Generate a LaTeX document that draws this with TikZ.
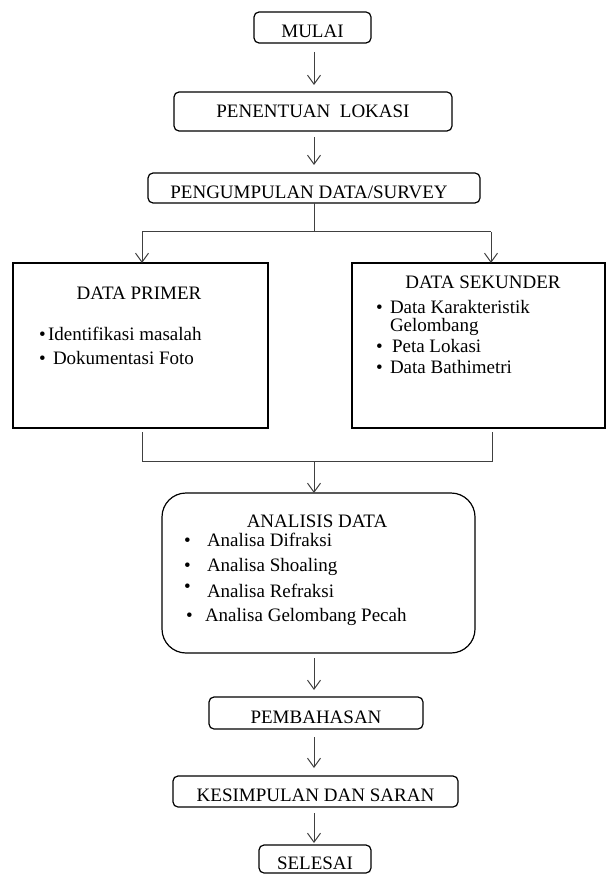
\documentclass[tikz,border=0pt]{standalone}
\usepackage{fontspec}
\setmainfont{Liberation Serif}
\usetikzlibrary{arrows.meta}
\begin{document}
\begin{tikzpicture}[x=1pt,y=-1pt,
  every node/.style={font=\fontsize{19}{21}\selectfont, inner sep=0pt, outer sep=0pt},
  box/.style={draw, line width=1.2pt, rounded corners=5pt, text height=20.5pt, text depth=0pt},
  bigbox/.style={draw, line width=1.2pt},
  conn/.style={draw=black!75, line width=1pt},
  arr/.style={conn, -{Straight Barb[length=9pt,width=13pt,line width=1pt]}},
  txt/.style={anchor=base west},
  ttl/.style={anchor=base},
]
\useasboundingbox (0,0) rectangle (607,874);
\coordinate (cx) at (314,0);

% main boxes
\node[box, minimum width=117pt, minimum height=31pt] (mulai) at (312.5,27.5) {MULAI};
\node[box, minimum width=278pt, minimum height=39pt, text height=12.5pt] (lokasi) at (313,111.5) {PENENTUAN\hspace{0.5em}LOKASI};
\node[box, minimum width=332pt, minimum height=30pt] (survey) at (314,188) {\hspace{-10pt}PENGUMPULAN DATA/SURVEY};

\node[bigbox, minimum width=255pt, minimum height=165pt] (primer) at (140.5,345.5) {};
\node[bigbox, minimum width=253pt, minimum height=165pt] (sekunder) at (478.5,345.5) {};

\node[bigbox, rounded corners=24pt, minimum width=313pt, minimum height=160pt] (analisis) at (318.5,573) {};

\node[box, minimum width=214pt, minimum height=32pt] (bahas) at (316,713) {PEMBAHASAN};
\node[box, minimum width=285pt, minimum height=31pt] (simpul) at (315.5,791.5) {KESIMPULAN DAN SARAN};
\node[box, minimum width=112pt, minimum height=28pt] (selesai) at (315,859) {SELESAI};

% DATA PRIMER text
\node[ttl] (tp) at (139,299) {DATA PRIMER};
\node[txt] (bp1) at (39,340) {•};
\node[txt] (p1) at (48,340) {Identifikasi masalah};
\node[txt] (bp2) at (39,364) {•};
\node[txt] (p2) at (53,364) {Dokumentasi Foto};

% DATA SEKUNDER text
\node[ttl] (ts) at (483,288) {DATA SEKUNDER};
\node[txt] (bs1) at (376,313) {•};
\node[txt] (s1) at (390,313) {Data Karakteristik};
\node[txt] (s1b) at (390,331) {Gelombang};
\node[txt] (bs2) at (376,352) {•};
\node[txt] (s2) at (392,352) {Peta Lokasi};
\node[txt] (bs3) at (376,373) {•};
\node[txt] (s3) at (390,373) {Data Bathimetri};

% ANALISIS DATA text
\node[ttl] (ta) at (317,527) {ANALISIS DATA};
\node[txt] (ba1) at (184,546) {•};
\node[txt] (a1) at (207,546) {Analisa Difraksi};
\node[txt] (ba2) at (184,571) {•};
\node[txt] (a2) at (207,571) {Analisa Shoaling};
\node[txt] (ba3) at (184,592) {•};
\node[txt] (a3) at (207,597) {Analisa Refraksi};
\node[txt] (ba4) at (186,621) {•};
\node[txt] (a4) at (205,621) {Analisa Gelombang Pecah};

% straight arrows
\draw[arr, shorten <=9pt, shorten >=7pt] (mulai.south -| cx) -- (lokasi.north -| cx);
\draw[arr, shorten <=6pt, shorten >=8pt] (lokasi.south -| cx) -- (survey.north -| cx);
\draw[arr, shorten <=5pt, shorten >=7pt] (analisis.south -| cx) -- (bahas.north -| cx);
\draw[arr, shorten <=8pt, shorten >=8pt] (bahas.south -| cx) -- (simpul.north -| cx);
\draw[arr, shorten <=6pt, shorten >=2pt] (simpul.south -| cx) -- (selesai.north -| cx);

% branching
\coordinate (j1) at (314,232);
\coordinate (jl) at (142,232);
\coordinate (jr) at (491,232);
\draw[conn] (survey.south -| cx) -- (j1);
\draw[conn] (jl) -- (jr);
\draw[arr] (jl) -- (primer.north -| jl);
\draw[arr] (jr) -- (sekunder.north -| jr);

% merging
\coordinate (bl) at (142,461);
\coordinate (br) at (492,461);
\coordinate (bm) at (314,461);
\draw[conn, shorten <=4pt, shorten >=4pt] (primer.south -| bl) -- (bl) -- (br) -- (sekunder.south -| br);
\draw[arr] (bm) -- (analisis.north -| bm);
\end{tikzpicture}
\end{document}
